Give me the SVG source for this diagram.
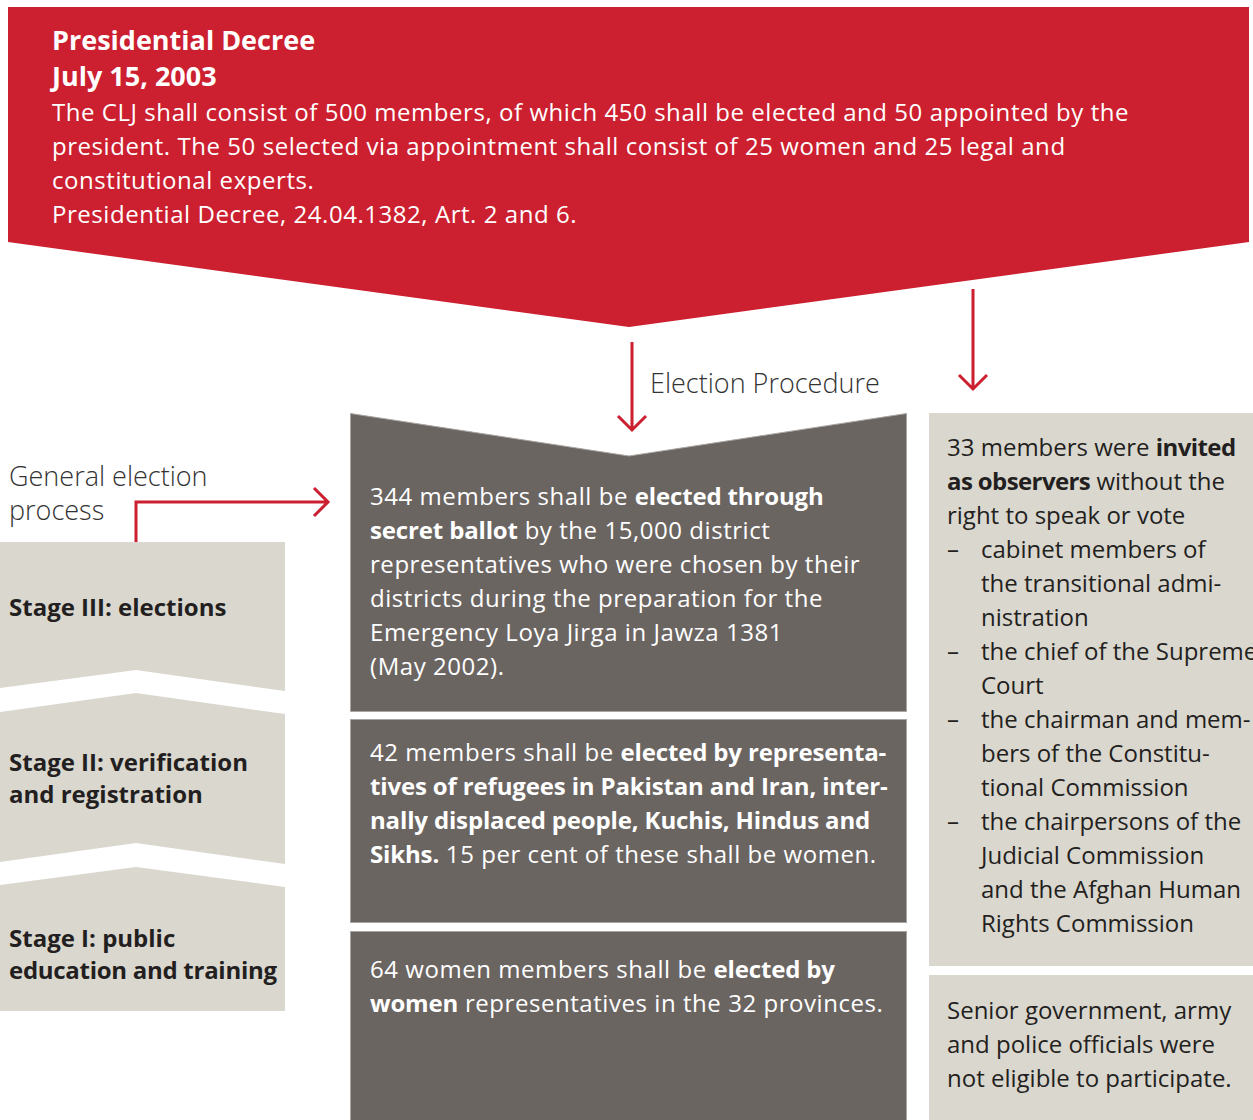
<svg xmlns="http://www.w3.org/2000/svg" width="1253" height="1120" viewBox="0 0 1253 1120">
<style>
text{font-family:"Open Sans","Noto Sans","Liberation Sans",sans-serif;}
.red{fill:#cc1f30;}
.dk{fill:#6b6562;stroke:#a9a5a2;stroke-width:1;}
.lt{fill:#dad7cf;}
.w{fill:#ffffff;font-size:24px;letter-spacing:0.55px;}
.d{fill:#231f20;font-size:24px;}
.lbl{fill:#333;font-size:27px;font-weight:300;}
.st{fill:#231f20;font-size:24px;font-weight:700;}
.b{font-weight:700;letter-spacing:-0.15px;}
.bd{font-weight:700;letter-spacing:-0.6px;}
.conn{fill:none;stroke:#cc1f30;stroke-width:3;}
</style>
<rect width="1253" height="1120" fill="#fff"/>
<g id="decree">
<polygon class="red" points="8,7 1249,7 1249,242 629,327 8,242"/>
<text fill="#fff" font-size="27" font-weight="700" x="52" y="50">Presidential Decree</text>
<text fill="#fff" font-size="27" font-weight="700" x="52" y="86">July 15, 2003</text>
<text class="w" x="52" y="121">The CLJ shall consist of 500 members, of which 450 shall be elected and 50 appointed by the</text>
<text class="w" x="52" y="155">president. The 50 selected via appointment shall consist of 25 women and 25 legal and</text>
<text class="w" x="52" y="189">constitutional experts.</text>
<text class="w" x="52" y="223">Presidential Decree, 24.04.1382, Art. 2 and 6.</text>
</g>
<g id="label-election-procedure"><text class="lbl" x="650" y="393">Election Procedure</text></g>
<g id="label-general"><text class="lbl" x="9" y="486">General election</text><text class="lbl" x="9" y="520">process</text></g>
<g id="stage3">
<polygon class="lt" points="0,542 285,542 285,691 136,670 0,688"/>
<text class="st" x="9" y="616">Stage III: elections</text>
</g>
<g id="stage2">
<polygon class="lt" points="0,712 136,693 285,714 285,864 136,843 0,862"/>
<text class="st" x="9" y="771">Stage II: verification</text>
<text class="st" x="9" y="803">and registration</text>
</g>
<g id="stage1">
<polygon class="lt" points="0,885 136,867 285,887 285,1011 0,1011"/>
<text class="st" x="9" y="947">Stage I: public</text>
<text class="st" x="9" y="979" textLength="268">education and training</text>
</g>
<g id="box-344">
<polygon class="dk" points="350.5,413.5 629,456 906.5,413.5 906.5,711.5 350.5,711.5"/>
<text class="w" x="370" y="505">344 members shall be <tspan class="b">elected through</tspan></text>
<text class="w" x="370" y="539"><tspan class="b">secret ballot</tspan> by the 15,000 district</text>
<text class="w" x="370" y="573">representatives who were chosen by their</text>
<text class="w" x="370" y="607">districts during the preparation for the</text>
<text class="w" x="370" y="641">Emergency Loya Jirga in Jawza 1381</text>
<text class="w" x="370" y="675">(May 2002).</text>
</g>
<g id="box-42">
<rect class="dk" x="350.5" y="719.5" width="556" height="203"/>
<text class="w" x="370" y="761">42 members shall be <tspan class="b">elected by representa-</tspan></text>
<text class="w" x="370" y="795"><tspan class="b">tives of refugees in Pakistan and Iran, inter-</tspan></text>
<text class="w" x="370" y="829"><tspan class="b">nally displaced people, Kuchis, Hindus and</tspan></text>
<text class="w" x="370" y="863"><tspan class="b">Sikhs.</tspan> 15 per cent of these shall be women.</text>
</g>
<g id="box-64">
<rect class="dk" x="350.5" y="931.5" width="556" height="200"/>
<text class="w" x="370" y="978">64 women members shall be <tspan class="b">elected by</tspan></text>
<text class="w" x="370" y="1012"><tspan class="b">women</tspan> representatives in the 32 provinces.</text>
</g>
<g id="box-observers">
<rect class="lt" x="929" y="413" width="324" height="553"/>
<text class="d" x="947" y="456">33 members were <tspan class="bd">invited</tspan></text>
<text class="d" x="947" y="490"><tspan class="bd">as observers</tspan> without the</text>
<text class="d" x="947" y="524">right to speak or vote</text>
<text class="d" x="947" y="558">–</text><text class="d" x="981" y="558">cabinet members of</text>
<text class="d" x="981" y="592">the transitional admi-</text>
<text class="d" x="981" y="626">nistration</text>
<text class="d" x="947" y="660">–</text><text class="d" x="981" y="660">the chief of the Supreme</text>
<text class="d" x="981" y="694">Court</text>
<text class="d" x="947" y="728">–</text><text class="d" x="981" y="728">the chairman and mem-</text>
<text class="d" x="981" y="762">bers of the Constitu-</text>
<text class="d" x="981" y="796">tional Commission</text>
<text class="d" x="947" y="830">–</text><text class="d" x="981" y="830">the chairpersons of the</text>
<text class="d" x="981" y="864">Judicial Commission</text>
<text class="d" x="981" y="898">and the Afghan Human</text>
<text class="d" x="981" y="932">Rights Commission</text>
</g>
<g id="box-ineligible">
<rect class="lt" x="929" y="975" width="324" height="145"/>
<text class="d" x="947" y="1019">Senior government, army</text>
<text class="d" x="947" y="1053">and police officials were</text>
<text class="d" x="947" y="1087">not eligible to participate.</text>
</g>
<g id="connectors">
<path class="conn" d="M632,342 V430 M618,416 L632,430 L646,416"/>
<path class="conn" d="M973,289 V389 M959,375 L973,389 L987,375"/>
<path class="conn" d="M136,542 V502 H328 M314,488 L328,502 L314,516"/>
</g>
</svg>
